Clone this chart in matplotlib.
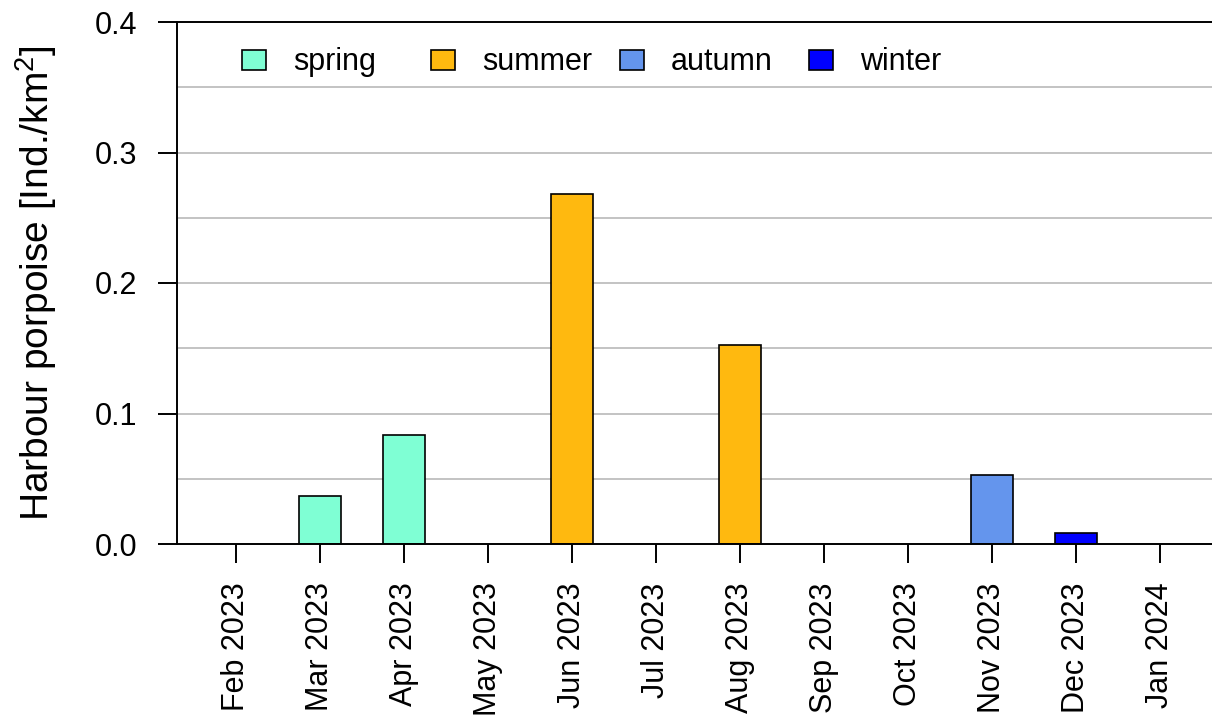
import matplotlib
import matplotlib.pyplot as plt
from matplotlib.patches import Rectangle

matplotlib.use('Agg')

months = ['Feb 2023', 'Mar 2023', 'Apr 2023', 'May 2023', 'Jun 2023', 'Jul 2023',
          'Aug 2023', 'Sep 2023', 'Oct 2023', 'Nov 2023', 'Dec 2023', 'Jan 2024']
density = [0.0, 0.0368, 0.0835, 0.0, 0.268, 0.0, 0.1525, 0.0, 0.0, 0.0529, 0.0084, 0.0]
season = ['winter', 'spring', 'spring', 'spring', 'summer', 'summer',
          'summer', 'autumn', 'autumn', 'autumn', 'winter', 'winter']

seasons = ['spring', 'summer', 'autumn', 'winter']
season_colors = {'spring': '#7FFFD4', 'summer': '#FFB90F',
                 'autumn': '#6495ED', 'winter': '#0000FF'}

yticks = [0.0, 0.1, 0.2, 0.3, 0.4]
grid_levels = [0.05, 0.1, 0.15, 0.2, 0.25, 0.3, 0.35]

plt.rcParams['font.family'] = ['Liberation Sans', 'DejaVu Sans']
plt.rcParams['mathtext.default'] = 'regular'

fig = plt.figure(figsize=(12.12, 7.17), dpi=100)
ax = fig.add_axes([177 / 1212, 1 - 544 / 717, 1 - 177 / 1212, (544 - 22) / 717])

for g in grid_levels:
    ax.axhline(g, color='#BEBEBE', lw=1.3, zorder=0)
ax.axhline(0.0, color='black', lw=1.4, zorder=3, clip_on=False)
ax.axhline(0.4, color='black', lw=1.4, zorder=3, clip_on=False)

x = list(range(len(months)))
for i, v in enumerate(density):
    if v > 0:
        ax.bar(i, v, width=0.5, color=season_colors[season[i]],
               edgecolor='black', linewidth=1.2, zorder=2)

ax.set_xlim(-0.702, 11.62)
ax.set_ylim(0, 0.4)
ax.set_xticks(x)
ax.set_xticklabels(months, rotation=90, fontsize=22)
ax.set_yticks(yticks)
ax.set_yticklabels(['%.1f' % t for t in yticks], fontsize=22)
ax.tick_params(axis='both', direction='out', length=13.7, width=1.4, color='black')
ax.tick_params(axis='x', pad=14)
ax.tick_params(axis='y', pad=15)

for s in ['top', 'right', 'bottom']:
    ax.spines[s].set_visible(False)
ax.spines['left'].set_linewidth(1.4)

fig.text(36 / 1212, 1 - 283 / 717, 'Harbour porpoise [Ind./km$^2$]',
         rotation=90, ha='center', va='center', fontsize=28)

# legend, one row with fixed pitch
for k, s in enumerate(seasons):
    bx = 242 + k * 189
    fig.patches.append(Rectangle((bx / 1212, 1 - 70 / 717), 24 / 1212, 20 / 717,
                                 transform=fig.transFigure, facecolor=season_colors[s],
                                 edgecolor='black', linewidth=1.2))
    fig.text((bx + 51) / 1212, 1 - 62 / 717, s, ha='left', va='center', fontsize=22)

fig.savefig('out.png', dpi=100, facecolor='white')
